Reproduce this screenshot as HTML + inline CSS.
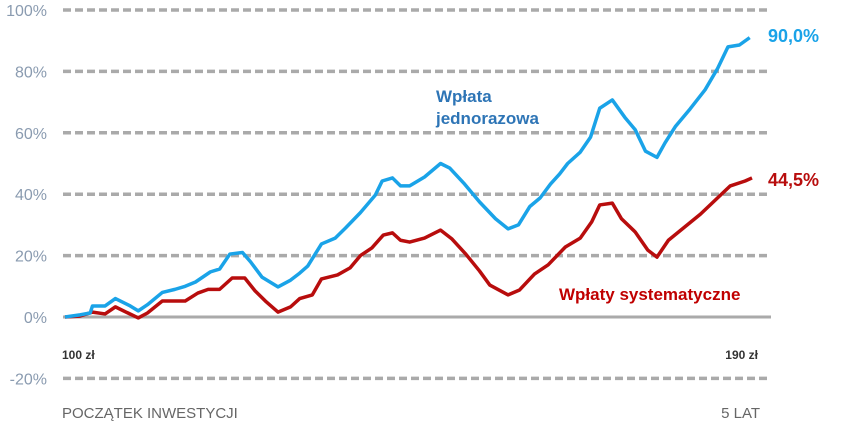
<!DOCTYPE html>
<html><head><meta charset="utf-8"><style>
body{margin:0;background:#fff;width:844px;height:431px;overflow:hidden}
svg{display:block}
text{font-family:"Liberation Sans",sans-serif}
</style></head><body>
<svg id="chart" width="844" height="431" viewBox="0 0 844 431">
<g id="grid"></g>
<g id="ylabels"></g>
<g id="series"></g>
<text x="436" y="102" fill="#2e75b6" font-size="17" font-weight="bold">Wpłata</text>
<text x="436" y="124" fill="#2e75b6" font-size="17" font-weight="bold">jednorazowa</text>
<text x="559" y="300" fill="#c00000" font-size="17" font-weight="bold">Wpłaty systematyczne</text>
<text id="endBlue" x="768" y="42" fill="#1aa3e8" font-size="18" font-weight="bold"></text>
<text id="endRed" x="768" y="186" fill="#b80d0d" font-size="18" font-weight="bold"></text>
<text x="62" y="359" fill="#333" font-size="12" font-weight="bold" font-family="Liberation Serif">100 zł</text>
<text x="758" y="359" fill="#333" font-size="12" font-weight="bold" text-anchor="end" font-family="Liberation Serif">190 zł</text>
<text x="62" y="418" fill="#666" font-size="15">POCZĄTEK INWESTYCJI</text>
<text x="760" y="418" fill="#666" font-size="15" text-anchor="end">5 LAT</text>
</svg>
<script>
const yTicks=[100,80,60,40,20,0,-20];
const yTickLabels=["100%","80%","60%","40%","20%","0%","-20%"];
const blueMonths=[0,1.3,2.2,2.4,3.5,4.4,5.7,6.4,7.2,8.5,9.6,10.5,11.4,12.7,13.5,14.4,15.5,16.2,17.2,18.6,19.7,20.5,21.2,22.4,23.6,24.5,25.8,27.1,27.7,28.6,29.3,30.1,31.4,32.8,33.6,34.9,36.2,37.6,38.7,39.6,40.6,41.5,42.4,43.2,43.9,45,45.9,46.7,47.8,48.9,49.8,50.7,51.7,52.4,53.3,54.6,55.9,57,57.9,58.9,59.8];
const blueValues=[0,0.7,1.3,3.6,3.6,6,3.6,2,4,8,9,10,11.4,14.7,15.6,20.5,21,18,13,9.8,12,14.3,16.6,23.8,25.7,29,34,39.7,44.3,45.3,42.7,42.7,45.6,50,48.5,43.3,37.5,32,28.7,30,36,38.8,43.3,46.6,50,53.7,58.6,68,70.7,65,61,54,52,56.7,62,67.8,74,81,88,88.6,91];
const redMonths=[0,1.3,2.4,3.5,4.4,5.5,6.4,7.2,8.5,10.5,11.6,12.5,13.5,14.6,15.7,16.6,17.5,18.6,19.7,20.5,21.6,22.4,23.8,24.9,25.8,26.8,27.8,28.6,29.3,30.1,31.4,32.8,33.8,35,36.2,37.1,38.7,39.7,41,42.2,43.7,45,46,46.7,47.8,48.6,49.8,50.9,51.7,52.7,55.5,58.1,59.4,60];
const redValues=[0,0.3,1.6,1,3.3,1.3,-0.3,1.3,5.2,5.2,7.8,9,9,12.7,12.7,8.5,5.2,1.6,3.3,6,7.2,12.4,13.7,16,20,22.5,26.7,27.4,25,24.4,25.7,28.3,25.4,20.5,15,10.4,7.2,8.8,14,17,22.8,25.7,31,36.5,37.1,32,27.7,21.8,19.5,25,33.5,42.7,44.3,45.3];
const endLabels=["90,0%","44,5%"];
const NS="http://www.w3.org/2000/svg";
const X=m=>65+m*(752-65)/60;
const Y=p=>317-p*3.07;
const grid=document.getElementById('grid'),yl=document.getElementById('ylabels'),ser=document.getElementById('series');
yTicks.forEach((t,i)=>{
 const l=document.createElementNS(NS,'line');
 
 
 l.setAttribute('x1',63);l.setAttribute('x2',771);l.setAttribute('y1',Y(t));l.setAttribute('y2',Y(t));
 l.setAttribute('stroke',t===0?'#aaa':'#aaa');l.setAttribute('stroke-width',t===0?3:3.5);
 if(t!==0)l.setAttribute('stroke-dasharray','8 4');
 grid.appendChild(l);
 const tx=document.createElementNS(NS,'text');
 
 
 tx.setAttribute('x',47);tx.setAttribute('y',Y(t)+6);tx.setAttribute('text-anchor','end');
 tx.setAttribute('fill','#8a9bb0');tx.setAttribute('font-size','16');tx.setAttribute('font-family','Liberation Serif');
 tx.textContent=yTickLabels[i];yl.appendChild(tx);
});
function line(ms,vs,c,name){
 const p=document.createElementNS(NS,'polyline');
 
 
 p.setAttribute('points',ms.map((m,i)=>X(m)+','+Y(vs[i])).join(' '));
 p.setAttribute('fill','none');p.setAttribute('stroke',c);p.setAttribute('stroke-width',3.5);p.setAttribute('stroke-linejoin','round');
 ser.appendChild(p);
}
line(redMonths,redValues,'#b80d0d','line-systematic');
line(blueMonths,blueValues,'#1aa3e8','line-lump-sum');
document.getElementById('endBlue').textContent=endLabels[0];
document.getElementById('endRed').textContent=endLabels[1];
</script>
</body></html>
